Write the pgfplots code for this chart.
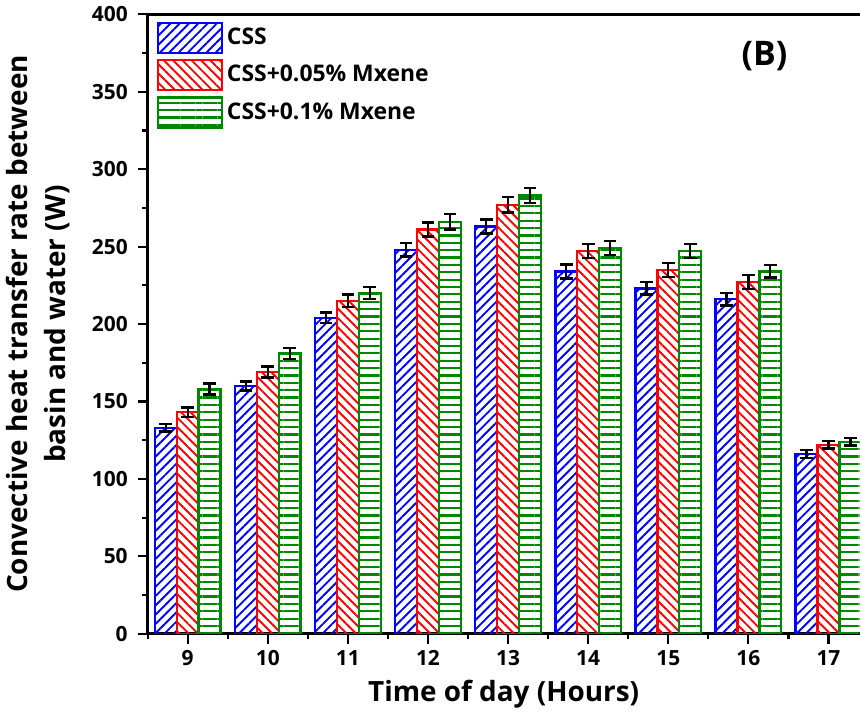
\documentclass[border=0pt]{standalone}
\usepackage{fontspec}
\setmainfont{Open Sans}
\usepackage{pgfplots}
\pgfplotsset{compat=1.18}
\usetikzlibrary{patterns.meta}
\definecolor{cblue}{RGB}{0,0,255}
\definecolor{cred}{RGB}{255,0,0}
\definecolor{cgreen}{RGB}{0,135,0}
\begin{document}
\begin{tikzpicture}
\begin{axis}[
  scale only axis,
  width=357.5pt, height=311pt,
  ybar=0pt, bar width=11pt,
  xmin=8.5, xmax=17.39,
  ymin=0, ymax=400,
  axis x line*=box, axis y line*=left,
  axis line style={-, line width=1.3pt},
  xtick={9,10,...,17},
  minor xtick={8.5,9.5,...,16.5},
  ytick={0,50,...,400},
  minor ytick={25,75,...,375},
  xtick pos=left, ytick pos=left,
  tick align=outside,
  major tick length=5pt, minor tick length=2.8pt,
  tick style={black, line width=1.1pt},
  /pgf/number format/assume math mode=true,
  every tick label/.append style={font=\fontsize{10.5}{12}\selectfont\bfseries},
  yticklabel style={xshift=-1.5pt},
  xlabel={Time of day (Hours)},
  ylabel={Convective heat transfer rate between\\basin and water (W)},
  label style={font=\fontsize{14}{19}\selectfont\bfseries},
  ylabel style={align=center, yshift=4pt},
  legend style={at={(0.004,0.995)}, anchor=north west, draw=none, fill=none,
    font=\fontsize{11.5}{13}\selectfont\bfseries, row sep=2.5pt},
  legend cell align=left,
  legend image code/.code={\draw[#1] (0pt,-7.5pt) rectangle (32pt,7.5pt);},
  error bars/error bar style={black, line width=1.2pt},
  error bars/error mark options={rotate=90, black, mark size=3.2pt, line width=1.2pt},
]
\addplot[draw=cblue, line width=1.2pt, pattern={Lines[angle=45,distance=3.3pt,line width=0.95pt]}, pattern color=cblue,
  error bars/.cd, y dir=both, y explicit]
coordinates {(9,133) +- (0,2.5) (10,160) +- (0,3) (11,204) +- (0,3.5) (12,248) +- (0,4.5) (13,263) +- (0,4.5) (14,234) +- (0,4.5) (15,223) +- (0,4) (16,216) +- (0,4) (17,116) +- (0,2.5)};
\addlegendentry{CSS}
\addplot[draw=cred, line width=1.2pt, pattern={Lines[angle=-45,distance=3.3pt,line width=0.95pt]}, pattern color=cred,
  error bars/.cd, y dir=both, y explicit]
coordinates {(9,143) +- (0,3) (10,169) +- (0,3.5) (11,215) +- (0,4) (12,261) +- (0,4.5) (13,277) +- (0,5) (14,247) +- (0,4.5) (15,235) +- (0,4.5) (16,227) +- (0,4.5) (17,122) +- (0,2.5)};
\addlegendentry{CSS+0.05\% Mxene}
\addplot[draw=cgreen, line width=1.2pt, pattern={Lines[angle=0,distance=3.7pt,line width=1.1pt]}, pattern color=cgreen,
  error bars/.cd, y dir=both, y explicit]
coordinates {(9,158) +- (0,3.5) (10,181) +- (0,3.5) (11,220) +- (0,4) (12,266) +- (0,5) (13,283) +- (0,5) (14,249) +- (0,4.5) (15,247) +- (0,4.5) (16,234) +- (0,4) (17,124) +- (0,2.5)};
\addlegendentry{CSS+0.1\% Mxene}
\node[font=\fontsize{17}{20}\selectfont\bfseries] at (axis cs:16.2,373) {(B)};
\end{axis}
\end{tikzpicture}
\end{document}
